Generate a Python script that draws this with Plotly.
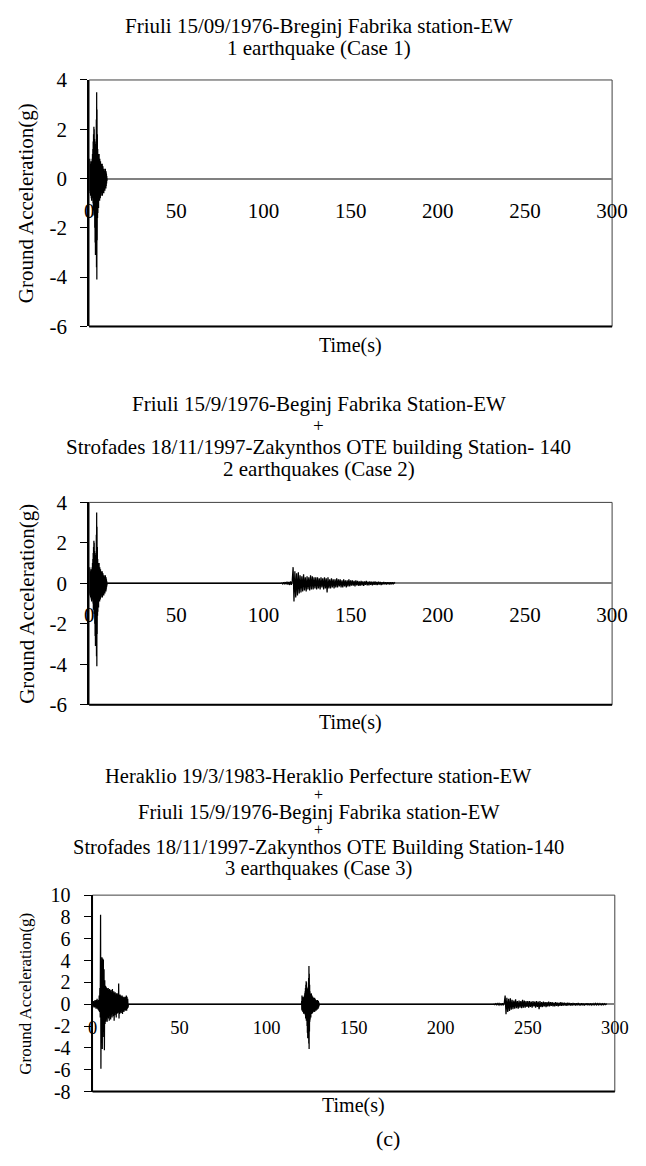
import plotly.graph_objects as go

W, H = 646, 1166

# ---------------- data ----------------
# Friuli 15/09/1976 - Breginj Fabrika, EW  (sampled every 0.1 s)
friuli_dt = 0.1
friuli_acc = [
    0.0, 0.3, -0.5, 0.8, -0.6, 0.7, -0.4, 0.5, -0.7, 0.6, -0.5,
    0.4, -0.8, 0.7, -0.9, 0.5, -0.6, 0.8, -0.7, 1.0, -0.8,
    1.2, -1.0, 1.5, -1.3, 1.8, -1.1, 2.1, -1.5, 2.0, -1.2,
    1.6, -2.0, 1.4, -2.6, 1.2, -3.1, 1.0, -2.2, 1.5, -2.8,
    2.4, -3.6, 3.5, -4.1, 2.8, -2.5, 1.8, -1.6, 1.2, -1.4,
    1.0, -1.1, 0.9, -1.2, 0.8, -0.9, 1.0, -0.8, 0.7, -0.9,
    0.8, -0.7, 0.6, -0.8, 0.7, -0.6, 0.5, -0.7, 0.6, -0.5,
    0.5, -0.6, 0.4, -0.5, 0.6, -0.7, 0.4, -0.5, 0.5, -0.6,
    0.4, -0.4, 0.3, -0.6, 0.4, -0.3, 0.3, -0.4, 0.3, -0.5,
    0.3, -0.3, 0.4, -0.3, 0.2, -0.4, 0.3, -0.3, 0.2, -0.2,
    0.1, -0.1, 0.0,
]

# Heraklio 19/3/1983 - Heraklio Perfecture, EW  (sampled every 0.2 s)
heraklio_dt = 0.2
heraklio_acc = [
    0.0, 0.2, -0.2, 0.3, -0.3, 0.2, -0.3, 0.4, -0.2, 0.3, -0.4,
    0.4, -0.3, 0.5, -0.4, 0.3, -0.5, 0.4, -0.6, 0.8, -0.7,
    1.5, -1.2, 8.2, -5.9, 3.8, -3.5, 4.3, -4.1, 4.2, -3.0,
    4.1, -2.5, 3.2, -4.2, 2.2, -1.8, 1.7, -1.6, 1.6, -1.4,
    1.5, -1.6, 1.4, -1.2, 1.5, -1.3, 1.3, -1.5, 1.4, -1.1,
    1.2, -1.4, 1.3, -1.0, 1.1, -1.2, 1.4, -0.9, 1.0, -1.1,
    1.2, -1.5, 1.0, -1.0, 1.1, -0.8, 0.9, -1.2, 1.0, -0.9,
    0.9, -0.8, 1.0, -0.7, 1.9, -1.3, 0.8, -0.9, 0.9, -0.7,
    0.8, -0.8, 0.7, -0.6, 0.8, -0.9, 0.7, -0.6, 0.6, -0.7,
    0.7, -0.5, 0.6, -0.6, 0.7, -0.5, 0.8, -0.6, 0.7, -0.4,
    0.5, -0.3, 0.0,
]

# Strofades 18/11/1997 - Zakynthos OTE building, 140  (sampled every 0.5 s)
strofades_dt = 0.5
strofades_acc = [
    0.0, 0.02, -0.03, 0.05, -0.04, 0.06, -0.05, 0.08, -0.06, 0.07, -0.08, 0.1, -0.08, 0.12,
    0.8, -0.9, 0.6, -0.7, 0.5, -0.6, 0.55, -0.5,
    0.4, -0.45, 0.35, -0.4, 0.45, -0.35, 0.3, -0.4, 0.35, -0.3,
    0.3, -0.35, 0.4, -0.3, 0.35, -0.3, 0.3, -0.25, 0.3, -0.3,
    0.3, -0.25, 0.25, -0.3, 0.3, -0.2, 0.25, -0.3, 0.3, -0.25,
    0.25, -0.45, 0.3, -0.25, 0.2, -0.25, 0.25, -0.2, 0.2, -0.25,
    0.2, -0.2, 0.25, -0.2, 0.2, -0.15, 0.2, -0.2, 0.15, -0.2,
    0.2, -0.15, 0.15, -0.2, 0.15, -0.15, 0.2, -0.15, 0.15, -0.12,
    0.15, -0.12, 0.12, -0.15, 0.15, -0.1, 0.12, -0.12, 0.1, -0.12,
    0.12, -0.1, 0.1, -0.12, 0.1, -0.08, 0.12, -0.1, 0.08, -0.1,
    0.1, -0.08, 0.08, -0.1, 0.08, -0.07, 0.1, -0.08, 0.07, -0.08,
    0.08, -0.06, 0.07, -0.08, 0.06, -0.06, 0.07, -0.05, 0.06, -0.06,
    0.06, -0.05, 0.05, -0.06, 0.05, -0.04, 0.05, -0.04, 0.03, 0.0,
]

records = {
    "Friuli": (friuli_dt, friuli_acc),
    "Heraklio": (heraklio_dt, heraklio_acc),
    "Strofades": (strofades_dt, strofades_acc),
}

# which records make up each case, and when each one starts (s)
case_records = [["Friuli"], ["Friuli", "Strofades"], ["Heraklio", "Friuli", "Strofades"]]
case_starts = [[0], [0, 110], [0, 120, 230]]

case_titles = [
    ["Friuli 15/09/1976-Breginj Fabrika station-EW", "1 earthquake (Case 1)"],
    ["Friuli 15/9/1976-Beginj Fabrika Station-EW", "+",
     "Strofades 18/11/1997-Zakynthos OTE building Station- 140", "2 earthquakes (Case 2)"],
    ["Heraklio 19/3/1983-Heraklio Perfecture station-EW", "+",
     "Friuli 15/9/1976-Beginj Fabrika station-EW", "+",
     "Strofades 18/11/1997-Zakynthos OTE Building Station-140", "3 earthquakes (Case 3)"],
]

x_ticks = [0, 50, 100, 150, 200, 250, 300]
y_ranges = [[-6, 4], [-6, 4], [-8, 10]]
y_ticks = [[-6, -4, -2, 0, 2, 4], [-6, -4, -2, 0, 2, 4], [-8, -6, -4, -2, 0, 2, 4, 6, 8, 10]]

x_title = "Time(s)"
y_title = "Ground Acceleration(g)"
fig_label = "(c)"

# ---------------- layout (pixels) ----------------
def px(p):
    return p / W

def py(p):
    return 1 - p / H

FONT = "Liberation Serif"

panels = [
    dict(x=(87, 627.5), y=(69.4, 321), title_y=[14, 37], title_size=21, plus_size=19,
         ytick_size=21, xtick_size=21, xstand=17, ytitle=(22, 195, 21), xtitle=(357.5, 340)),
    dict(x=(87, 627.5), y=(500.7, 707.3), title_y=[400, 422, 444, 467], title_size=21, plus_size=19,
         ytick_size=21, xtick_size=21, xstand=17, ytitle=(22, 604, 21), xtitle=(357.5, 725)),
    dict(x=(90.5, 630.3), y=(901.7, 1102.3), title_y=[780, 798.5, 817, 835, 853, 875],
         title_size=20.5, plus_size=16,
         ytick_size=20, xtick_size=18.5, xstand=10, ytitle=(21, 1002, 17), xtitle=(360, 1116.7)),
]

fig = go.Figure()
annotations = []
shapes = []

for i, pnl in enumerate(panels):
    n = "" if i == 0 else str(i + 1)
    xa, ya = "x" + n, "y" + n

    # build the series of this case
    ts, vs = [], []
    for name, start in zip(case_records[i], case_starts[i]):
        dt, acc = records[name]
        ts += [start + k * dt for k in range(len(acc))]
        vs += acc
    fig.add_trace(go.Scatter(x=ts, y=vs, mode="lines", xaxis=xa, yaxis=ya,
                             line=dict(color="black", width=1.25, simplify=False),
                             showlegend=False, hoverinfo="skip"))

    xd = [px(pnl["x"][0]), px(pnl["x"][1])]
    yd = [py(pnl["y"][1]), py(pnl["y"][0])]
    r0, r1 = y_ranges[i]
    zero_pos = yd[0] + (0 - r0) / (r1 - r0) * (yd[1] - yd[0])

    fig.layout["xaxis" + n] = dict(
        domain=xd, range=[0, 300], anchor="free", position=zero_pos,
        tickvals=x_ticks, ticktext=[str(v) for v in x_ticks],
        showline=False, ticks="", showgrid=False, zeroline=False,
        ticklabelstandoff=pnl["xstand"],
        tickfont=dict(family=FONT, size=pnl["xtick_size"], color="black"),
    )
    fig.layout["yaxis" + n] = dict(
        domain=yd, range=y_ranges[i], anchor=xa,
        tickvals=y_ticks[i], ticktext=[str(v) for v in y_ticks[i]],
        showline=True, linecolor="black", linewidth=2,
        ticks="outside", ticklen=7, tickwidth=1, tickcolor="black",
        ticklabelstandoff=9,
        showgrid=False, zeroline=True, zerolinecolor="#808080", zerolinewidth=1.5,
        tickfont=dict(family=FONT, size=pnl["ytick_size"], color="black"),
    )

    # plot-area frame
    shapes.append(dict(type="rect", xref=xa + " domain", yref=ya + " domain",
                       x0=0, x1=1, y0=0, y1=1, line=dict(color="#404040", width=1),
                       layer="below"))
    shapes.append(dict(type="line", xref=xa + " domain", yref=ya + " domain",
                       x0=0, x1=1, y0=0, y1=0, line=dict(color="black", width=2)))

    # titles
    for txt, yy in zip(case_titles[i], pnl["title_y"]):
        size = pnl["plus_size"] if txt == "+" else pnl["title_size"]
        annotations.append(dict(text=txt, x=px(324.5), y=py(yy), xref="paper", yref="paper",
                                xanchor="center", yanchor="middle", showarrow=False,
                                font=dict(family=FONT, size=size, color="black")))
    # axis titles
    tx, ty, ts_ = pnl["ytitle"]
    annotations.append(dict(text=y_title, x=px(tx), y=py(ty), xref="paper", yref="paper",
                            xanchor="center", yanchor="middle", textangle=-90, showarrow=False,
                            font=dict(family=FONT, size=ts_, color="black")))
    annotations.append(dict(text=x_title, x=px(pnl["xtitle"][0]), y=py(pnl["xtitle"][1]),
                            xref="paper", yref="paper", xanchor="center", yanchor="middle",
                            showarrow=False, font=dict(family=FONT, size=20, color="black")))

annotations.append(dict(text=fig_label, x=px(396), y=py(1150), xref="paper", yref="paper",
                        xanchor="center", yanchor="middle", showarrow=False,
                        font=dict(family=FONT, size=22, color="black")))

fig.update_layout(width=W, height=H, margin=dict(l=0, r=0, t=0, b=0),
                  paper_bgcolor="white", plot_bgcolor="white",
                  annotations=annotations, shapes=shapes)

fig.write_html("out.html", config={"displayModeBar": False},
               post_script="document.body.style.margin='0';")
